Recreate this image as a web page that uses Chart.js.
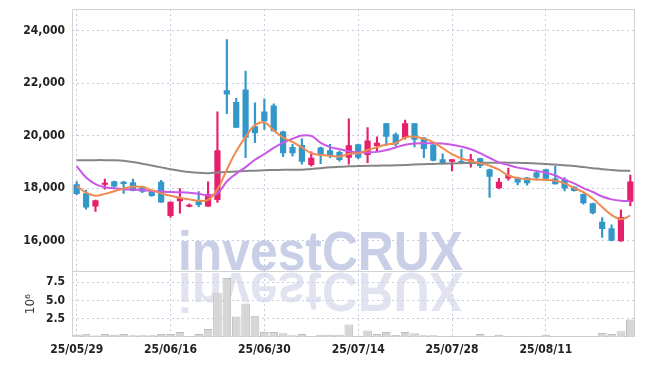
<!DOCTYPE html>
<html><head><meta charset="utf-8">
<script src="https://cdn.jsdelivr.net/npm/chart.js@4/dist/chart.umd.min.js"></script>
<style>html,body{margin:0;padding:0;background:#fff}</style>
</head><body>
<canvas id="c" width="645" height="366"></canvas>
<script>
const dates = ['25/05/29','25/05/30','25/06/02','25/06/04','25/06/05','25/06/09','25/06/10','25/06/11','25/06/12','25/06/13',
'25/06/16','25/06/17','25/06/18','25/06/19','25/06/20','25/06/23','25/06/24','25/06/25','25/06/26','25/06/27',
'25/06/30','25/07/01','25/07/02','25/07/03','25/07/04','25/07/07','25/07/08','25/07/09','25/07/10','25/07/11',
'25/07/14','25/07/15','25/07/16','25/07/17','25/07/18','25/07/21','25/07/22','25/07/23','25/07/24','25/07/25',
'25/07/28','25/07/29','25/07/30','25/07/31','25/08/01','25/08/04','25/08/05','25/08/06','25/08/07','25/08/08',
'25/08/11','25/08/12','25/08/13','25/08/14','25/08/18','25/08/19','25/08/20','25/08/21','25/08/22','25/08/25'];
const opens  = [18150,17800,17300,18130,18260,18240,18220,18060,17870,18240, 16940,17500,17290,17500,17300,17550,21730,21280,21760,20360,
 20920,21150,20160,19570,19640,18880,19550,19440,19380,19160, 19670,19260,19600,20470,20050,19920,20470,19920,19660,19100,
 19000,19030,19010,19140,18720,17990,18370,18400,18400,18590, 18720,18370,18340,18050,17770,17420,16720,16470,15970,17480];
const highs  = [18250,17920,17540,18340,18270,18260,18340,18080,17890,18300, 17480,17980,17400,17870,18240,20910,23660,21420,22460,21250,
 21400,21210,20170,19670,19880,19380,19560,19670,19410,20640, 19680,20310,19950,20470,20110,20590,20470,19930,19660,19310,
 19100,19480,19290,19140,18720,18370,18760,18420,18410,18600, 18720,18840,18400,18060,17780,17430,16880,16600,17170,18500];
const lows   = [17750,17200,17110,17960,18000,17800,17890,17830,17680,17450, 16880,17040,17280,17290,17300,17450,20840,20300,19160,19730,
 20240,20170,19200,19220,18910,18840,18930,19160,19030,18910, 19120,18970,19410,19630,19600,19860,19570,19160,19040,18950,
 18650,18950,18800,18780,17640,17970,18300,18120,18110,18300, 18300,18150,17890,17880,17390,17020,16120,15990,15970,17320];
const closes = [17770,17260,17540,18190,18060,18160,17890,17860,17700,17450, 17480,17620,17360,17360,17770,19440,21570,20300,19920,20090,
 20550,20170,19330,19330,19000,19160,19280,19220,19070,19630, 19160,19810,19730,19960,19670,20470,19840,19490,19040,18950,
 19100,18950,19100,18840,18430,18240,18500,18210,18180,18400, 18360,18150,17980,17890,17420,17040,16440,15990,16900,18250];
const ma5  = [18080,17830,17710,17780,17880,17980,18050,18040,17920,17800, 17710,17630,17570,17520,17550,17950,18700,19400,19950,20400,
 20500,20200,19920,19760,19550,19330,19260,19230,19200,19300, 19330,19450,19560,19660,19710,19930,19960,19880,19750,19520,
 19290,19130,19030,18950,18850,18700,18480,18380,18340,18330, 18310,18280,18180,18000,17850,17600,17280,16980,16820,16950];
const ma20 = [18840,18400,18150,18030,17990,17960,17940,17920,17890,17870, 17850,17840,17820,17780,17720,17800,18250,18550,18800,19080,
 19300,19530,19730,19880,20000,19990,19720,19560,19480,19400, 19360,19360,19380,19450,19550,19650,19700,19710,19710,19700,
 19650,19580,19480,19330,19150,18980,18880,18780,18720,18650, 18590,18480,18320,18180,18000,17850,17680,17570,17520,17510];
const ma60 = [19060,19060,19065,19065,19060,19040,18990,18930,18860,18790, 18720,18660,18610,18580,18570,18590,18610,18630,18650,18665,
 18680,18690,18695,18695,18700,18730,18760,18790,18810,18830, 18840,18850,18855,18860,18870,18880,18900,18910,18920,18930,
 18940,18950,18955,18960,18965,18970,18970,18965,18955,18940, 18920,18900,18870,18840,18800,18760,18720,18690,18665,18660];
const volumes = [0.3,0.45,0.2,0.4,0.3,0.4,0.25,0.25,0.25,0.4, 0.4,0.7,0.1,0.4,1.1,6.0,8.1,2.8,4.6,2.9,
 0.7,0.7,0.5,0.25,0.4,0.15,0.3,0.3,0.3,1.7, 0.1,0.9,0.4,0.7,0.3,0.7,0.5,0.25,0.25,0.1,
 0.1,0.1,0.1,0.4,0.15,0.3,0.1,0.1,0.1,0.1, 0.3,0.1,0.1,0.1,0.1,0.1,0.55,0.4,0.8,2.4];
const priceTicks = [16000,18000,20000,22000,24000];
const volTicks = [2.5,5,7.5];
const labelEvery = 10;

const UP = '#e6206c', DOWN = '#3497c9';
const candleColor = opens.map((o,i)=> closes[i] >= o ? UP : DOWN);
const GRID = '#c9cce0';
const tickFont = {family:'"DejaVu Sans Condensed", "DejaVu Sans"', size:12, weight:'bold'};

const frame = {
  id:'frame',
  beforeDatasetsDraw(chart){
    const ctx = chart.ctx, ca = chart.chartArea, y = chart.scales.y, yv = chart.scales.yv;
    ctx.save();
    const txt = 'investCRUX';
    ctx.font = 'bold 56px "Liberation Sans"';
    const w = ctx.measureText(txt).width;
    const x0 = 178, x1 = 463, base = y.bottom - 1;
    const sx = (x1-x0)/w;
    ctx.textBaseline = 'alphabetic';
    ctx.save();
    ctx.beginPath(); ctx.rect(ca.left, y.top, ca.right-ca.left, y.bottom-y.top); ctx.clip();
    ctx.translate(x0, base); ctx.scale(sx,1);
    ctx.fillStyle = 'rgba(190,199,226,0.85)';
    ctx.fillText(txt, 0, 0);
    ctx.restore();
    ctx.save();
    ctx.beginPath(); ctx.rect(ca.left, yv.top, ca.right-ca.left, yv.bottom-yv.top); ctx.clip();
    ctx.translate(x0, base+3); ctx.scale(sx,-1);
    ctx.fillStyle = 'rgba(205,210,230,0.6)';
    ctx.fillText(txt, 0, 0);
    ctx.restore();
    ctx.restore();
    ctx.save();
    ctx.strokeStyle = '#d2d2d2'; ctx.lineWidth = 1;
    ctx.strokeRect(Math.round(ca.left)+0.5, Math.round(y.top)+0.5, Math.round(ca.right-ca.left)-1, Math.round(y.bottom-y.top));
    ctx.strokeRect(Math.round(ca.left)+0.5, Math.round(yv.top)+0.5, Math.round(ca.right-ca.left)-1, Math.round(yv.bottom-yv.top)-1);
    ctx.restore();
  }
};

const fitY = s => { s.width = 72; s.paddingTop = 0; s.paddingBottom = 0; };

new Chart(document.getElementById('c'), {
  type:'bar',
  data:{
    labels: dates,
    datasets:[
      {type:'line', label:'MA5', data: ma5, yAxisID:'y', borderColor:'#ef8a50', borderWidth:2, pointRadius:0, tension:0.4, order:0},
      {type:'line', label:'MA20', data: ma20, yAxisID:'y', borderColor:'#c958e8', borderWidth:2, pointRadius:0, tension:0.4, order:0},
      {type:'line', label:'MA60', data: ma60, yAxisID:'y', borderColor:'#858585', borderWidth:2, pointRadius:0, tension:0.4, order:0},
      {label:'body', data: opens.map((o,i)=>[o, closes[i]]), yAxisID:'y', backgroundColor: candleColor, borderWidth:0,
        barPercentage:0.66, categoryPercentage:1, grouped:false, minBarLength:2, order:1},
      {label:'wick', data: lows.map((l,i)=>[l, highs[i]]), yAxisID:'y', backgroundColor: candleColor, borderWidth:0,
        barThickness:1.5, grouped:false, order:2},
      {label:'vol', data: volumes, yAxisID:'yv', backgroundColor:'#d6d6d6', borderColor:'#bdbdbd', borderWidth:1,
        barPercentage:0.92, categoryPercentage:1, grouped:false, order:3}
    ]
  },
  options:{
    responsive:false, animation:false, devicePixelRatio:1,
    layout:{padding:{top:9, right:10, bottom:0, left:0}},
    plugins:{legend:{display:false}, tooltip:{enabled:false}},
    scales:{
      x:{type:'category', offset:true,
        grid:{offset:false, drawTicks:false, color: c => (c.index % labelEvery === 0) ? GRID : 'rgba(0,0,0,0)'},
        border:{display:false, dash:[2,3]},
        ticks:{autoSkip:false, maxRotation:0, padding:6, color:'#222', font:tickFont,
          callback:(v,i)=> i % labelEvery === 0 ? dates[i] : ''},
        afterFit: s => { s.height = 29; s.paddingLeft = 0; s.paddingRight = 0; }
      },
      yv:{position:'left', stack:'p', stackWeight:1, min:0, max:9,
        afterBuildTicks: s => { s.ticks = volTicks.map(v=>({value:v})); },
        grid:{drawTicks:false, color:GRID}, border:{display:false, dash:[2,3]},
        ticks:{padding:7, color:'#222', font:tickFont, callback:v=> v.toFixed(1)},
        title:{display:true, text:'10⁶', color:'#333', font:{family:'"DejaVu Sans"', size:12}, padding:{top:24,bottom:0}},
        afterFit: fitY
      },
      y:{position:'left', stack:'p', stackWeight:4, min:14825, max:24825,
        afterBuildTicks: s => { s.ticks = priceTicks.map(v=>({value:v})); },
        grid:{drawTicks:false, color:GRID}, border:{display:false, dash:[2,3]},
        ticks:{padding:7, color:'#222', font:tickFont, callback:v=> v.toLocaleString('en-US')},
        afterFit: fitY
      }
    }
  },
  plugins:[frame]
});
</script>
</body></html>
